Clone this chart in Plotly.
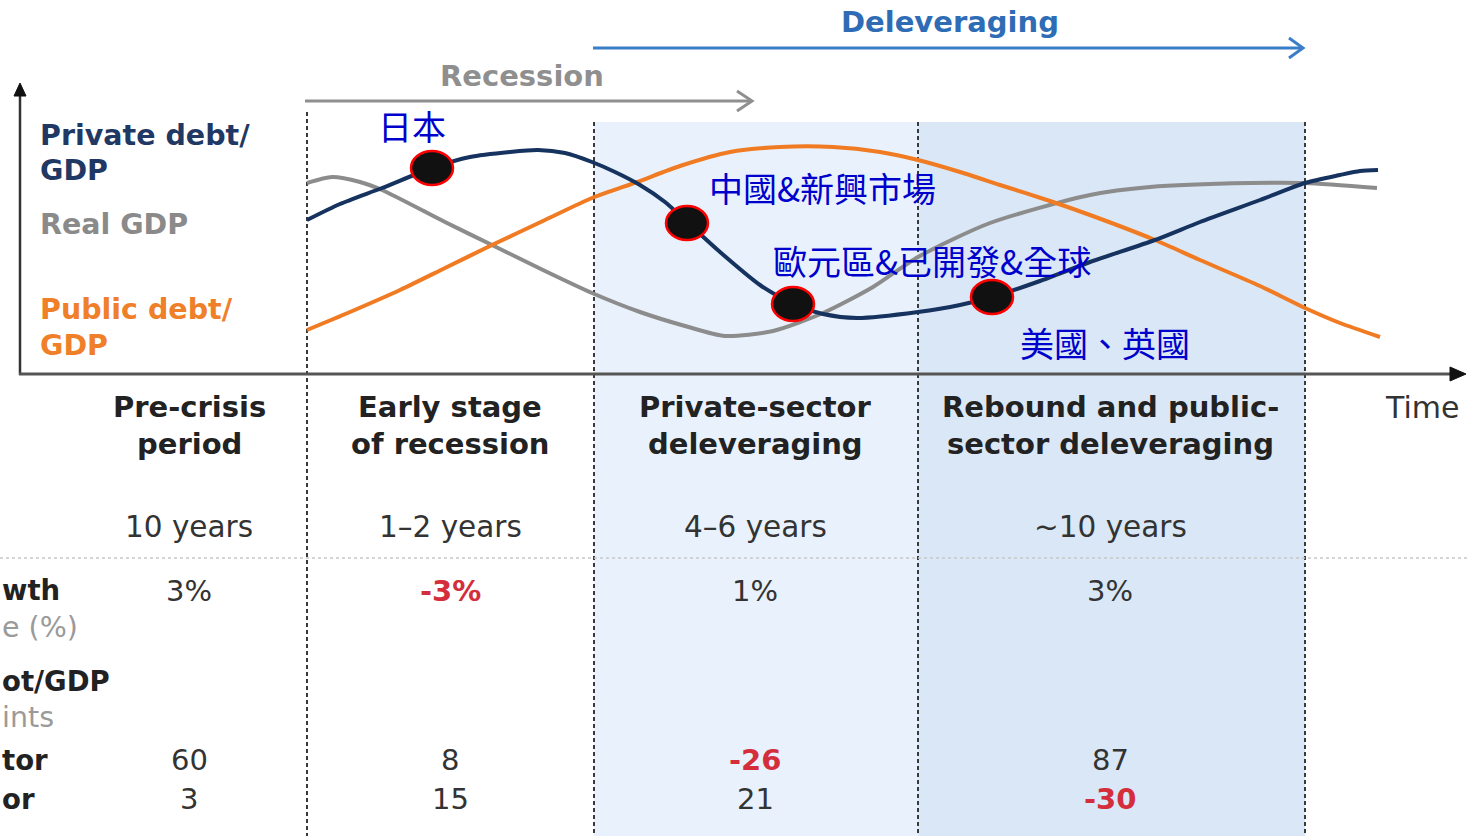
import plotly.graph_objects as go

# ---------------- data ----------------
# curves: time (distance from the y-axis) and level (height above the time axis)
private_t = [287, 320, 362, 412, 450, 490, 518, 545, 572, 595, 620, 645, 667, 700, 740, 773, 803, 837,
             898, 940, 972, 1020, 1070, 1135, 1180, 1240, 1285, 1320, 1340, 1358]
private_v = [154, 170, 186, 206, 217, 222, 224, 221, 212, 202, 189, 172, 152, 122, 89, 70, 60, 56,
             62, 69, 77, 93, 112, 134, 152, 174, 191, 199, 203, 204]

gdp_t = [287, 312, 340, 362, 425, 472, 525, 572, 620, 665, 705, 753, 803, 853, 898, 970, 1070, 1130, 1230, 1285, 1357]
gdp_v = [191, 197, 192, 184, 152, 129, 103, 81, 62, 48, 38, 43, 61, 87, 117, 151, 179, 187, 191, 191, 186]

public_t = [287, 330, 380, 425, 472, 525, 572, 617, 660, 710, 760, 813, 860, 898, 940, 980, 1030, 1070,
            1135, 1180, 1240, 1285, 1320, 1360]
public_v = [44, 62, 84, 106, 129, 154, 176, 192, 208, 222, 227, 227, 222, 214, 202, 189, 173, 159,
            134, 114, 88, 66, 51, 37]

# highlighted points on the private-debt curve and their labels
dot_t = [412, 667, 773, 972]
dot_v = [206, 151, 70, 77]
dot_labels = ["日本", "中國&新興市場", "歐元區&已開發&全球", "美國、英國"]

series_names = ["Private debt/<br>GDP", "Real GDP", "Public debt/<br>GDP"]

stage_line1 = ["Pre-crisis", "Early stage", "Private-sector", "Rebound and public-"]
stage_line2 = ["period", "of recession", "deleveraging", "sector deleveraging"]
durations = ["10 years", "1–2 years", "4–6 years", "~10 years"]
growth = ["3%", "-3%", "1%", "3%"]
private_change = ["60", "8", "-26", "87"]
public_change = ["3", "15", "21", "-30"]
row_labels = ["wth", "e (%)", "ot/GDP", "ints", "tor", "or"]

# ---------------- styles / layout positions ----------------
W, H = 1470, 836
NAVY = "#16325f"
GRAY = "#8c8c8c"
ORANGE = "#f07b22"
RED = "#d42e3c"
DARK = "#222222"
CJK_BLUE = "#0000cc"
FONT = "DejaVu Sans"

col_x = [189, 450, 755, 1110]
bounds = [307, 594, 918, 1305]

fig = go.Figure()

# invisible anchor trace for the layout axes (pixel frame)
fig.add_trace(go.Scatter(x=[0, W], y=[0, H], mode="markers", marker=dict(opacity=0),
                         hoverinfo="skip", xaxis="x", yaxis="y"))

for t, v, c in [(gdp_t, gdp_v, GRAY), (public_t, public_v, ORANGE), (private_t, private_v, NAVY)]:
    fig.add_trace(go.Scatter(x=t, y=v, mode="lines", line=dict(color=c, width=4, shape="spline", smoothing=0.7),
                             hoverinfo="skip", xaxis="x2", yaxis="y2"))

shapes = []
# shaded stages
shapes.append(dict(type="rect", xref="x", yref="y", x0=bounds[1], x1=bounds[2], y0=122, y1=H,
                   fillcolor="#e9f2fc", line=dict(width=0), layer="below"))
shapes.append(dict(type="rect", xref="x", yref="y", x0=bounds[2], x1=bounds[3], y0=122, y1=H,
                   fillcolor="#d9e7f6", line=dict(width=0), layer="below"))
# dashed stage boundaries
for i, bx in enumerate(bounds):
    shapes.append(dict(type="line", xref="x", yref="y", x0=bx, x1=bx, y0=112 if i == 0 else 122, y1=H,
                       line=dict(color="#3a3a3a", width=2, dash="4px,3px"), layer="below"))
# dotted separator
shapes.append(dict(type="line", xref="x", yref="y", x0=0, x1=W, y0=558, y1=558,
                   line=dict(color="#c8c8c8", width=1.5, dash="dot"), layer="below"))
# axes
shapes.append(dict(type="line", xref="x", yref="y", x0=20, x1=20, y0=375, y1=94,
                   line=dict(color="#333333", width=2.5)))
shapes.append(dict(type="path", xref="x", yref="y", path="M 14 96 L 20 83 L 26 96 Z",
                   fillcolor="#111111", line=dict(color="#111111", width=1)))
shapes.append(dict(type="line", xref="x", yref="y", x0=19, x1=1452, y0=374, y1=374,
                   line=dict(color="#555555", width=3)))
shapes.append(dict(type="path", xref="x", yref="y", path="M 1450 367 L 1466 374 L 1450 381 Z",
                   fillcolor="#111111", line=dict(color="#111111", width=1)))
# recession arrow
shapes.append(dict(type="line", xref="x", yref="y", x0=305, x1=751, y0=101, y1=101,
                   line=dict(color="#8f8f8f", width=3)))
shapes.append(dict(type="path", xref="x", yref="y", path="M 737 91 L 752 101 L 737 111",
                   line=dict(color="#8f8f8f", width=3)))
# deleveraging arrow
shapes.append(dict(type="line", xref="x", yref="y", x0=593, x1=1302, y0=48, y1=48,
                   line=dict(color="#3b7ec8", width=3)))
shapes.append(dict(type="path", xref="x", yref="y", path="M 1289 38 L 1303 48 L 1289 58",
                   line=dict(color="#3b7ec8", width=3)))
# highlighted dots (ellipses) built from the data arrays
for t, v in zip(dot_t, dot_v):
    shapes.append(dict(type="circle", xref="x2", yref="y2", x0=t - 21, x1=t + 21, y0=v - 17, y1=v + 17,
                       fillcolor="#111111", line=dict(color="#ff0000", width=2.5), layer="above"))

ann = []


def text(x, y, s, size=29, color=DARK, bold=False, anchor="center", family=FONT):
    ann.append(dict(x=x, y=y, xref="x", yref="y", text=f"<b>{s}</b>" if bold else s, showarrow=False,
                    xanchor=anchor, yanchor="middle",
                    font=dict(family=family, size=size, color=color)))


# top titles
text(950, 22, "Deleveraging", size=29, color="#2e6cb5", bold=True)
text(522, 76, "Recession", size=29, color="#8f8f8f", bold=True)

# series labels
label_colors = [("#1f3864", [135, 170]), ("#8a8a8a", [224]), ("#f07f2a", [309, 345])]
for name, (c, ys) in zip(series_names, label_colors):
    for part, y in zip(name.split("<br>"), ys):
        text(38, y, part, size=28.5, color=c, bold=True, anchor="left")

# CJK labels
cjk_pos = [(412, 125), (822, 187), (932, 260), (1105, 342)]
for s, (x, y) in zip(dot_labels, cjk_pos):
    text(x, y, s, size=34, color=CJK_BLUE, family="Noto Sans CJK TC")

# stage headers
for x, a, b, d in zip(col_x, stage_line1, stage_line2, durations):
    text(x, 407, a, size=29, bold=True)
    text(x, 444, b, size=29, bold=True)
    text(x, 527, d, size=29.5, color="#333333")
text(1422, 407, "Time", size=30, color="#333333")

# table
for x, g, p, q in zip(col_x, growth, private_change, public_change):
    for s, y in [(g, 591), (p, 760), (q, 799)]:
        neg = s.startswith("-")
        text(x, y, s, size=29, color=RED if neg else "#333333", bold=neg)

row_y = [590, 627, 681, 717, 760, 799]
row_gray = [False, True, False, True, False, False]
for s, y, g in zip(row_labels, row_y, row_gray):
    text(0, y, s, size=27.5 if not g else 28.5, color="#9a9a9a" if g else DARK, bold=not g, anchor="left")

fig.update_layout(
    width=W, height=H, margin=dict(l=0, r=0, t=0, b=0),
    paper_bgcolor="white", plot_bgcolor="white", showlegend=False,
    xaxis=dict(range=[0, W], visible=False, fixedrange=True),
    yaxis=dict(range=[H, 0], visible=False, fixedrange=True),
    xaxis2=dict(range=[-20, W - 20], overlaying="x", visible=False, fixedrange=True),
    yaxis2=dict(range=[374 - H, 374], overlaying="y", visible=False, fixedrange=True),
    shapes=shapes, annotations=ann,
)

fig.write_html("out.html", config={"displayModeBar": False},
               post_script="document.body.style.margin='0';document.body.style.overflow='hidden';")
